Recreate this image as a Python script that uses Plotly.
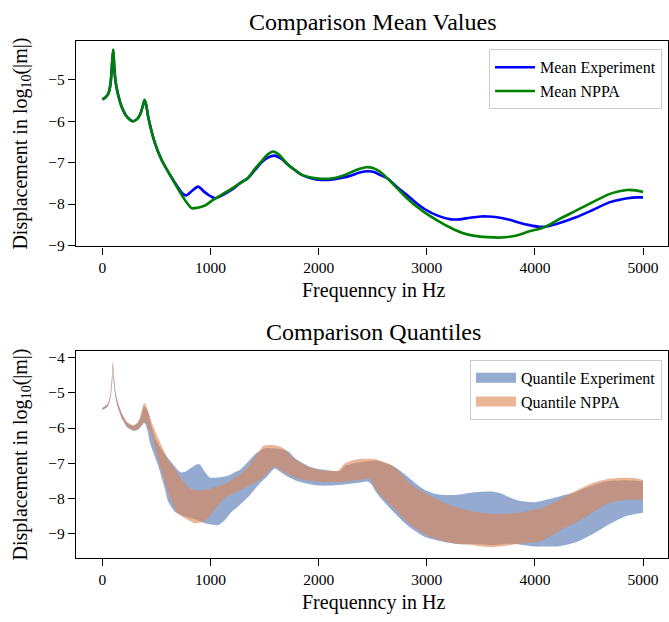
import plotly.graph_objects as go

# ---------------- data ----------------
f_mexp = [0, 30, 55, 75, 90, 100, 108, 120, 140, 180, 230, 285, 320, 350, 375, 390, 405, 424, 486, 547, 640,
          700, 747, 778, 830, 886, 940, 993, 1040, 1100, 1200, 1270, 1347, 1410, 1471, 1530, 1590, 1650, 1717,
          1780, 1840, 1930, 2025, 2148, 2230, 2302, 2380, 2455, 2517, 2563, 2640, 2730, 2825, 2900, 2979, 3100,
          3225, 3300, 3400, 3500, 3563, 3650, 3764, 3856, 3950, 4041, 4087, 4200, 4380, 4530, 4687, 4780, 4856,
          4950, 5000]
y_mexp = [-5.47, -5.42, -5.33, -5.1, -4.6, -4.28, -4.6, -5.0, -5.3, -5.66, -5.9, -6.0, -5.95, -5.83, -5.62, -5.5,
          -5.6, -5.9, -6.53, -6.93, -7.36, -7.6, -7.76, -7.79, -7.68, -7.58, -7.7, -7.80, -7.86, -7.8, -7.65, -7.5,
          -7.37, -7.18, -7.0, -6.88, -6.83, -6.9, -7.05, -7.18, -7.29, -7.38, -7.42, -7.40, -7.36, -7.31, -7.24,
          -7.21, -7.23, -7.29, -7.39, -7.6, -7.80, -7.97, -8.12, -8.28, -8.37, -8.37, -8.33, -8.30, -8.30, -8.32,
          -8.38, -8.45, -8.51, -8.55, -8.55, -8.48, -8.32, -8.15, -7.96, -7.9, -7.86, -7.84, -7.84]

f_mnppa = [0, 30, 55, 75, 90, 100, 108, 120, 140, 180, 230, 285, 320, 350, 375, 390, 405, 424, 486, 547, 640,
           735, 790, 824, 880, 947, 1024, 1100, 1200, 1270, 1347, 1410, 1471, 1530, 1578, 1630, 1717, 1780, 1840,
           1930, 2025, 2148, 2230, 2302, 2380, 2440, 2500, 2563, 2640, 2730, 2825, 2900, 2979, 3100, 3225, 3330,
           3441, 3560, 3687, 3764, 3856, 3950, 4087, 4200, 4380, 4530, 4687, 4780, 4856, 4930, 5000]
y_mnppa = [-5.47, -5.42, -5.33, -5.1, -4.6, -4.27, -4.6, -5.0, -5.3, -5.66, -5.9, -6.0, -5.95, -5.83, -5.62, -5.48,
           -5.6, -5.9, -6.53, -6.93, -7.36, -7.79, -8.0, -8.10, -8.09, -8.04, -7.90, -7.78, -7.62, -7.5, -7.37,
           -7.15, -6.97, -6.8, -6.73, -6.8, -7.05, -7.18, -7.29, -7.36, -7.39, -7.37, -7.31, -7.23, -7.15, -7.11,
           -7.13, -7.21, -7.39, -7.63, -7.88, -8.05, -8.20, -8.40, -8.58, -8.70, -8.77, -8.80, -8.81, -8.79, -8.74,
           -8.66, -8.56, -8.4, -8.16, -7.96, -7.76, -7.69, -7.66, -7.67, -7.71]

# Quantile bands
f_eu = [0, 50, 75, 90, 97, 105, 120, 140, 180, 230, 285, 330, 360, 385, 400, 424, 455, 490, 547, 640, 700, 732,
        780, 824, 870, 901, 940, 993, 1070, 1163, 1224, 1270, 1350, 1420, 1455, 1500, 1560, 1620, 1717, 1780, 1840,
        1920, 1994, 2100, 2200, 2240, 2300, 2380, 2456, 2517, 2563, 2671, 2750, 2825, 2900, 2979, 3050, 3133, 3287,
        3440, 3594, 3680, 3748, 3856, 4000, 4071, 4150, 4225, 4300, 4379, 4450, 4533, 4610, 4687, 4841, 5000]
y_eu = [-5.43, -5.31, -5.05, -4.5, -4.15, -4.5, -4.95, -5.25, -5.6, -5.85, -5.93, -5.85, -5.65, -5.40, -5.42,
        -5.55, -5.95, -6.3, -6.61, -6.98, -7.2, -7.26, -7.22, -7.12, -7.03, -7.03, -7.2, -7.40, -7.40, -7.35, -7.25,
        -7.19, -6.95, -6.72, -6.66, -6.57, -6.57, -6.58, -6.66, -6.85, -6.97, -7.1, -7.16, -7.2, -7.22, -7.08,
        -7.02, -6.97, -6.94, -6.93, -6.94, -7.05, -7.2, -7.38, -7.58, -7.75, -7.84, -7.89, -7.89, -7.82, -7.80,
        -7.85, -7.94, -8.06, -8.10, -8.06, -8.0, -7.94, -7.88, -7.82, -7.72, -7.63, -7.55, -7.50, -7.48, -7.50]

f_el = [0, 50, 75, 90, 97, 105, 120, 140, 180, 230, 285, 330, 360, 385, 400, 420, 440, 516, 578, 609, 670, 716,
        780, 850, 947, 993, 1070, 1132, 1193, 1224, 1270, 1350, 1455, 1530, 1594, 1650, 1717, 1800, 1900, 1994,
        2100, 2240, 2350, 2456, 2490, 2517, 2563, 2671, 2825, 2979, 3133, 3287, 3440, 3594, 3748, 3856, 4000,
        4071, 4225, 4379, 4533, 4687, 4841, 5000]
y_el = [-5.49, -5.38, -5.15, -4.75, -4.35, -4.7, -5.1, -5.38, -5.73, -5.98, -6.08, -6.05, -5.95, -5.85, -5.9,
        -6.1, -6.42, -7.07, -7.72, -8.09, -8.37, -8.45, -8.52, -8.58, -8.70, -8.73, -8.75, -8.61, -8.38, -8.30,
        -8.18, -7.95, -7.57, -7.35, -7.15, -7.25, -7.38, -7.5, -7.58, -7.63, -7.63, -7.60, -7.56, -7.52, -7.6,
        -7.75, -7.95, -8.31, -8.77, -9.08, -9.21, -9.29, -9.29, -9.32, -9.28, -9.30, -9.36, -9.36, -9.35, -9.24,
        -9.01, -8.73, -8.50, -8.40]

f_nu = [0, 50, 75, 90, 97, 105, 120, 140, 180, 230, 285, 330, 360, 380, 395, 410, 424, 470, 516, 609, 680, 732,
        780, 824, 947, 1070, 1163, 1224, 1270, 1350, 1420, 1455, 1490, 1550, 1620, 1680, 1717, 1780, 1840, 1920,
        1994, 2100, 2180, 2240, 2300, 2380, 2456, 2517, 2563, 2671, 2750, 2825, 2900, 2979, 3133, 3287, 3440, 3594,
        3748, 3856, 4000, 4071, 4225, 4379, 4533, 4687, 4841, 4950, 5000]
y_nu = [-5.43, -5.31, -5.03, -4.45, -4.09, -4.45, -4.93, -5.23, -5.58, -5.83, -5.93, -5.82, -5.55, -5.32, -5.30,
        -5.40, -5.54, -5.95, -6.28, -6.89, -7.2, -7.45, -7.62, -7.75, -7.75, -7.65, -7.54, -7.40, -7.33, -7.1,
        -6.78, -6.63, -6.50, -6.48, -6.50, -6.58, -6.70, -6.88, -7.0, -7.12, -7.19, -7.22, -7.2, -7.01, -6.93,
        -6.88, -6.87, -6.88, -6.92, -7.05, -7.25, -7.52, -7.70, -7.84, -8.08, -8.26, -8.37, -8.43, -8.43, -8.40,
        -8.31, -8.26, -8.03, -7.78, -7.56, -7.44, -7.41, -7.43, -7.47]

f_nl = [0, 50, 75, 90, 97, 105, 120, 140, 180, 230, 285, 330, 360, 385, 400, 420, 440, 516, 609, 686, 763, 855,
        932, 978, 1040, 1100, 1170, 1224, 1300, 1455, 1530, 1594, 1650, 1717, 1800, 1900, 1994, 2100, 2240, 2350,
        2456, 2490, 2517, 2563, 2671, 2825, 2979, 3133, 3287, 3440, 3594, 3748, 3856, 4000, 4071, 4225, 4379,
        4533, 4687, 4841, 5000]
y_nl = [-5.49, -5.38, -5.13, -4.72, -4.32, -4.68, -5.08, -5.36, -5.71, -5.96, -6.06, -6.03, -5.92, -5.82, -5.85,
        -6.0, -6.05, -6.88, -7.82, -8.38, -8.56, -8.70, -8.65, -8.55, -8.30, -8.08, -7.92, -7.84, -7.72, -7.47,
        -7.25, -7.10, -7.2, -7.31, -7.42, -7.49, -7.52, -7.53, -7.52, -7.48, -7.43, -7.5, -7.68, -7.87, -8.19,
        -8.68, -9.01, -9.19, -9.29, -9.33, -9.38, -9.33, -9.28, -9.24, -9.19, -8.91, -8.68, -8.40, -8.12, -8.03,
        -8.03]

x_ticks = [0, 1000, 2000, 3000, 4000, 5000]
y_ticks_top = [-5, -6, -7, -8, -9]
y_ticks_bot = [-4, -5, -6, -7, -8, -9]

# ---------------- figure ----------------
W, H = 669, 622
ML = 76
PW = W - ML
FONT = "Liberation Serif"

def px_x(px):
    return (px - ML) / PW

def px_y(py):
    return 1 - py / H

fig = go.Figure()

fig.add_trace(go.Scatter(x=f_mexp, y=y_mexp, mode="lines", name="Mean Experiment",
                         line=dict(color="#0000ff", width=2.6, shape="spline", smoothing=0.8),
                         xaxis="x", yaxis="y", legend="legend"))
fig.add_trace(go.Scatter(x=f_mnppa, y=y_mnppa, mode="lines", name="Mean NPPA",
                         line=dict(color="#008000", width=2.6, shape="spline", smoothing=0.8),
                         xaxis="x", yaxis="y", legend="legend"))

blue_fill = "rgba(76,114,176,0.6)"
orange_fill = "rgba(221,132,82,0.6)"

fig.add_trace(go.Scatter(x=f_el, y=y_el, mode="lines", showlegend=False,
                         line=dict(width=0, shape="spline", smoothing=0.6), xaxis="x2", yaxis="y2",
                         hoverinfo="skip"))
fig.add_trace(go.Scatter(x=f_eu, y=y_eu, mode="lines", name="Quantile Experiment", fill="tonexty",
                         fillcolor=blue_fill, line=dict(width=0, color=blue_fill, shape="spline", smoothing=0.6),
                         xaxis="x2", yaxis="y2", showlegend=False))
fig.add_trace(go.Scatter(x=f_nl, y=y_nl, mode="lines", showlegend=False,
                         line=dict(width=0, shape="spline", smoothing=0.6), xaxis="x2", yaxis="y2",
                         hoverinfo="skip"))
fig.add_trace(go.Scatter(x=f_nu, y=y_nu, mode="lines", name="Quantile NPPA", fill="tonexty",
                         fillcolor=orange_fill, line=dict(width=0, color=orange_fill, shape="spline", smoothing=0.6),
                         xaxis="x2", yaxis="y2", showlegend=False))

# legend patches for the quantile bands
fig.add_trace(go.Scatter(x=[None], y=[None], mode="lines", name="Quantile Experiment",
                         line=dict(width=13, color=blue_fill), xaxis="x2", yaxis="y2", legend="legend2"))
fig.add_trace(go.Scatter(x=[None], y=[None], mode="lines", name="Quantile NPPA",
                         line=dict(width=13, color=orange_fill), xaxis="x2", yaxis="y2", legend="legend2"))

axis_common = dict(showline=True, linecolor="black", linewidth=1.3, mirror=True,
                   ticks="outside", ticklen=7, tickwidth=1.2, tickcolor="black",
                   showgrid=False, zeroline=False,
                   tickfont=dict(family=FONT, size=15.5, color="black"))

xr = [-244, 5231]
fig.update_layout(
    width=W, height=H,
    margin=dict(l=ML, r=0, t=0, b=0),
    paper_bgcolor="white", plot_bgcolor="white",
    font=dict(family=FONT, color="black"),
    xaxis=dict(domain=[0, 1], anchor="y", range=xr, tickvals=x_ticks, **axis_common),
    yaxis=dict(domain=[px_y(248), px_y(39.3)], anchor="x", range=[-9.024, -4.055],
               tickvals=y_ticks_top, **axis_common),
    xaxis2=dict(domain=[0, 1], anchor="y2", range=xr, tickvals=x_ticks, **axis_common),
    yaxis2=dict(domain=[px_y(564), px_y(354)], anchor="x2", range=[-9.679, -3.813],
                tickvals=y_ticks_bot, **axis_common),
    legend=dict(x=px_x(663), y=px_y(48), xanchor="right", yanchor="top", itemwidth=40,
                traceorder="normal",
                bgcolor="rgba(255,255,255,0.8)", bordercolor="#cccccc", borderwidth=1,
                font=dict(family=FONT, size=16, color="black")),
    legend2=dict(x=px_x(663), y=px_y(363), xanchor="right", yanchor="top", itemwidth=40,
                 traceorder="normal",
                 bgcolor="rgba(255,255,255,0.8)", bordercolor="#cccccc", borderwidth=1,
                 font=dict(family=FONT, size=16, color="black")),
    showlegend=True,
)

ann = [
    dict(text="Comparison Mean Values", x=px_x(374), y=px_y(20), size=24, angle=0),
    dict(text="Frequenncy in Hz", x=px_x(374), y=px_y(293), size=20, angle=0),
    dict(text="Displacement in log<sub>10</sub>(|m|)", x=px_x(21), y=px_y(143.6), size=20, angle=-90),
    dict(text="Comparison Quantiles", x=px_x(374), y=px_y(335), size=24, angle=0),
    dict(text="Frequenncy in Hz", x=px_x(374), y=px_y(609), size=20, angle=0),
    dict(text="Displacement in log<sub>10</sub>(|m|)", x=px_x(21), y=px_y(459), size=20, angle=-90),
]
for a in ann:
    fig.add_annotation(text=a["text"], x=a["x"], y=a["y"], xref="paper", yref="paper",
                       xanchor="center", yanchor="middle", showarrow=False, textangle=a["angle"],
                       font=dict(family=FONT, size=a["size"], color="black"))

fig.write_html("out.html")
